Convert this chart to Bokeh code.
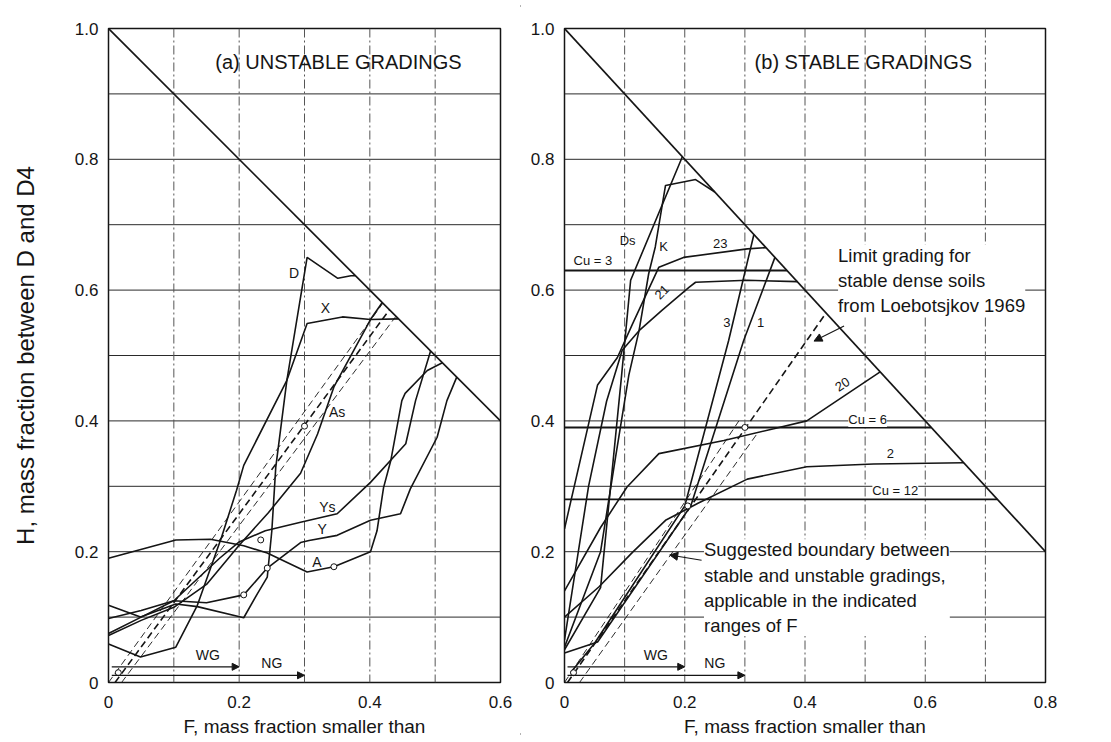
from bokeh.plotting import figure
from bokeh.layouts import row
from bokeh.models import Label, Arrow, NormalHead, Span, FixedTicker
from bokeh.embed import file_html
from bokeh.resources import INLINE

# ---------------- data: panel (a) unstable gradings (F, H) ----------------
A_F = [0.0, 0.103, 0.156, 0.207, 0.243, 0.304, 0.345, 0.401, 0.411, 0.421, 0.432, 0.449, 0.454, 0.488, 0.511]
A_H = [0.190, 0.218, 0.219, 0.209, 0.198, 0.169, 0.177, 0.200, 0.232, 0.298, 0.339, 0.431, 0.442, 0.477, 0.489]
D_F = [0.0, 0.049, 0.103, 0.136, 0.207, 0.228, 0.243, 0.250, 0.256, 0.273, 0.304, 0.351, 0.371, 0.378]
D_H = [0.118, 0.100, 0.120, 0.116, 0.099, 0.136, 0.161, 0.232, 0.329, 0.462, 0.650, 0.618, 0.622, 0.622]
X_F = [0.0, 0.049, 0.103, 0.136, 0.173, 0.196, 0.207, 0.273, 0.304, 0.358, 0.401, 0.444]
X_H = [0.059, 0.039, 0.054, 0.118, 0.222, 0.294, 0.332, 0.462, 0.549, 0.559, 0.555, 0.556]
As_F = [0.0, 0.05, 0.10, 0.15, 0.20, 0.245, 0.294, 0.32, 0.345, 0.401, 0.419]
As_H = [0.072, 0.095, 0.115, 0.15, 0.21, 0.26, 0.32, 0.38, 0.452, 0.555, 0.581]
Ys_F = [0.0, 0.05, 0.10, 0.17, 0.20, 0.24, 0.294, 0.35, 0.401, 0.455, 0.47, 0.493]
Ys_H = [0.098, 0.11, 0.125, 0.19, 0.215, 0.232, 0.245, 0.258, 0.306, 0.365, 0.431, 0.507]
Y_F = [0.0, 0.05, 0.10, 0.15, 0.207, 0.243, 0.294, 0.307, 0.35, 0.401, 0.447, 0.462, 0.503, 0.518, 0.533]
Y_H = [0.075, 0.10, 0.125, 0.122, 0.134, 0.175, 0.214, 0.217, 0.225, 0.248, 0.258, 0.296, 0.375, 0.431, 0.467]
a_curves = [(A_F, A_H), (D_F, D_H), (X_F, X_H), (As_F, As_H), (Ys_F, Ys_H), (Y_F, Y_H)]
a_names = ["A", "D", "X", "As", "Ys", "Y"]
a_label_F = [0.319, 0.284, 0.332, 0.350, 0.335, 0.327]
a_label_H = [0.184, 0.626, 0.573, 0.414, 0.268, 0.235]
a_diag_F = [0.0, 0.6]
a_diag_H = [1.0, 0.4]
a_bound_F = [[0.01, 0.43], [0.0, 0.42], [0.02, 0.44]]
a_bound_H = [[0.0, 0.57], [0.0, 0.58], [0.0, 0.56]]
a_circ_F = [0.015, 0.207, 0.243, 0.345, 0.233, 0.300]
a_circ_H = [0.015, 0.134, 0.175, 0.177, 0.218, 0.392]

# ---------------- data: panel (b) stable gradings (F, H) ----------------
R1_F = [0.0, 0.055, 0.21, 0.298, 0.35]
R1_H = [0.045, 0.062, 0.27, 0.523, 0.65]
R3_F = [0.01, 0.05, 0.20, 0.273, 0.315]
R3_H = [0.015, 0.06, 0.27, 0.523, 0.685]
R2_F = [0.0, 0.057, 0.113, 0.168, 0.222, 0.304, 0.403, 0.514, 0.664]
R2_H = [0.10, 0.146, 0.199, 0.248, 0.274, 0.311, 0.33, 0.334, 0.336]
R20_F = [0.0, 0.06, 0.104, 0.157, 0.265, 0.348, 0.403, 0.525]
R20_H = [0.14, 0.237, 0.299, 0.35, 0.37, 0.388, 0.40, 0.475]
R21_F = [0.0, 0.04, 0.07, 0.096, 0.124, 0.162, 0.207, 0.218, 0.304, 0.387]
R21_H = [0.065, 0.30, 0.43, 0.508, 0.538, 0.569, 0.604, 0.612, 0.615, 0.613]
R23_F = [0.0, 0.055, 0.088, 0.113, 0.157, 0.198, 0.304, 0.335]
R23_H = [0.235, 0.455, 0.497, 0.548, 0.635, 0.65, 0.663, 0.665]
K_F = [0.0, 0.06, 0.085, 0.107, 0.124, 0.14, 0.151, 0.168, 0.218, 0.25]
K_H = [0.054, 0.2, 0.345, 0.47, 0.538, 0.625, 0.666, 0.76, 0.769, 0.75]
Ds_F = [0.0, 0.06, 0.095, 0.11, 0.196]
Ds_H = [0.05, 0.145, 0.47, 0.615, 0.804]
b_curves = [(R1_F, R1_H), (R3_F, R3_H), (R2_F, R2_H), (R20_F, R20_H),
            (R21_F, R21_H), (R23_F, R23_H), (K_F, K_H), (Ds_F, Ds_H)]
cu_names = ["Cu = 3", "Cu = 6", "Cu = 12"]
cu_H = [0.63, 0.39, 0.28]
cu_F_end = [0.37, 0.61, 0.72]
b_diag_F = [0.0, 0.8]
b_diag_H = [1.0, 0.2]
b_bound_F = [[0.005, 0.435], [0.0, 0.29], [0.025, 0.32]]
b_bound_H = [[0.0, 0.565], [0.0, 0.40], [0.0, 0.38]]
b_circ_F = [0.015, 0.205, 0.300]
b_circ_H = [0.015, 0.270, 0.390]

INK = "#151515"
FONT = "Liberation Sans"


def base_fig(xmax, xticks, frame_w, bl, br, ylabel):
    p = figure(frame_width=frame_w, frame_height=654, x_range=(0, xmax), y_range=(0, 1.0),
               output_backend="svg", toolbar_location=None,
               min_border_left=bl, min_border_right=br, min_border_top=28, min_border_bottom=58)
    p.background_fill_color = "white"
    p.border_fill_color = "white"
    p.outline_line_color = INK
    p.outline_line_width = 1.5
    p.xgrid.visible = False
    p.ygrid.visible = False
    # grid lines
    for i in range(1, 10):
        p.add_layout(Span(location=i / 10, dimension="width", line_color="#2a2a2a",
                          line_width=1, level="underlay"))
    for i in range(1, int(round(xmax * 10))):
        p.add_layout(Span(location=i / 10, dimension="height", line_color="#555555",
                          line_width=1, line_dash="9 3 2 3", level="underlay"))
    p.xaxis.ticker = FixedTicker(ticks=xticks)
    p.yaxis.ticker = FixedTicker(ticks=[0, 0.2, 0.4, 0.6, 0.8, 1.0])
    p.xaxis.major_label_overrides = {0: "0"}
    p.yaxis.major_label_overrides = {0: "0", 1: "1.0"}
    for ax in (p.xaxis[0], p.yaxis[0]):
        ax.axis_line_color = None
        ax.major_tick_line_color = None
        ax.minor_tick_line_color = None
        ax.major_label_text_font = FONT
        ax.major_label_text_font_size = "17px"
        ax.major_label_text_color = INK
        ax.axis_label_text_font = FONT
        ax.axis_label_text_font_size = "19px"
        ax.axis_label_text_font_style = "normal"
        ax.axis_label_text_color = INK
    p.yaxis.major_label_standoff = 4
    p.xaxis.major_label_standoff = 7
    p.xaxis.axis_label = "F, mass fraction smaller than"
    p.xaxis.axis_label_standoff = 5
    if ylabel:
        p.yaxis.axis_label = ylabel
        p.yaxis.axis_label_text_font_size = "24px"
        p.yaxis.axis_label_standoff = 33
    return p


def lbl(p, x, y, text, size="14px", angle=0, bg=None, align="left", baseline="middle"):
    kw = dict(x=x, y=y, text=text, text_font=FONT, text_font_size=size, text_color=INK,
              angle=angle, angle_units="deg", text_align=align, text_baseline=baseline)
    if bg:
        kw["background_fill_color"] = bg
    p.add_layout(Label(**kw))


def range_arrows(p):
    p.add_layout(Arrow(end=NormalHead(size=7, fill_color=INK, line_color=INK), x_start=0.005,
                       y_start=0.024, x_end=0.2, y_end=0.024, line_color=INK, line_width=1.2))
    p.add_layout(Arrow(end=NormalHead(size=7, fill_color=INK, line_color=INK), x_start=0.005,
                       y_start=0.011, x_end=0.3, y_end=0.011, line_color=INK, line_width=1.2))
    lbl(p, 0.152, 0.042, "WG", size="14px", align="center")
    lbl(p, 0.25, 0.03, "NG", size="14px", align="center")


# ---------------- panel (a) ----------------
pa = base_fig(0.6, [0, 0.2, 0.4, 0.6], 392, 108, 20, "H, mass fraction between D and D4")
pa.line(a_diag_F, a_diag_H, line_color=INK, line_width=1.7)
for (fx, hy) in a_curves:
    pa.line(fx, hy, line_color=INK, line_width=1.6)
for k, (bf, bh) in enumerate(zip(a_bound_F, a_bound_H)):
    pa.line(bf, bh, line_color=INK, line_width=1.6 if k == 0 else 0.9, line_dash="7 4")
pa.scatter(a_circ_F, a_circ_H, marker="circle", size=6, fill_color="white", line_color=INK, line_width=1)
for name, fx, hy in zip(a_names, a_label_F, a_label_H):
    lbl(pa, fx, hy, name, size="14px", align="center")
lbl(pa, 0.352, 0.949, "(a) UNSTABLE GRADINGS", size="20px", align="center")
range_arrows(pa)

# ---------------- panel (b) ----------------
pb = base_fig(0.8, [0, 0.2, 0.4, 0.6, 0.8], 481, 44, 66, None)
pb.line(b_diag_F, b_diag_H, line_color=INK, line_width=1.7)
for (fx, hy) in b_curves:
    pb.line(fx, hy, line_color=INK, line_width=1.6)
for h, fe in zip(cu_H, cu_F_end):
    pb.line([0.0, fe], [h, h], line_color=INK, line_width=1.9)
for k, (bf, bh) in enumerate(zip(b_bound_F, b_bound_H)):
    pb.line(bf, bh, line_color=INK, line_width=1.6 if k == 0 else 0.9, line_dash="7 4")
pb.scatter(b_circ_F, b_circ_H, marker="circle", size=6, fill_color="white", line_color=INK, line_width=1)

lbl(pb, 0.015, 0.645, cu_names[0], size="13px")
lbl(pb, 0.472, 0.402, cu_names[1], size="13px", bg="white")
lbl(pb, 0.512, 0.294, cu_names[2], size="13px", bg="white")
lbl(pb, 0.542, 0.35, "2", size="13px", align="center")
lbl(pb, 0.462, 0.456, "20", size="13px", align="center", angle=33)
lbl(pb, 0.27, 0.551, "3", size="13px", align="center")
lbl(pb, 0.326, 0.551, "1", size="13px", align="center")
lbl(pb, 0.162, 0.597, "21", size="13px", align="center", angle=45)
lbl(pb, 0.259, 0.671, "23", size="13px", align="center")
lbl(pb, 0.165, 0.666, "K", size="13px", align="center")
lbl(pb, 0.105, 0.676, "Ds", size="13px", align="center")
lbl(pb, 0.497, 0.949, "(b) STABLE GRADINGS", size="20px", align="center")

lbl(pb, 0.455, 0.615, "Limit grading for\nstable dense soils\nfrom Loebotsjkov 1969", size="18.5px", bg="white")
lbl(pb, 0.232, 0.145, "Suggested boundary between\nstable and unstable gradings,\napplicable in the indicated\nranges of F", size="18.5px", bg="white")
pb.add_layout(Arrow(end=NormalHead(size=8, fill_color=INK, line_color=INK), x_start=0.228,
                    y_start=0.187, x_end=0.175, y_end=0.195, line_color=INK, line_width=1.1))
pb.add_layout(Arrow(end=NormalHead(size=8, fill_color=INK, line_color=INK), x_start=0.465,
                    y_start=0.545, x_end=0.415, y_end=0.522, line_color=INK, line_width=1.1))
range_arrows(pb)

layout = row(pa, pb, styles={"outline": "2px solid #9a9a9a", "outline-offset": "-7px"})
open("out.html", "w").write(file_html(layout, INLINE))
